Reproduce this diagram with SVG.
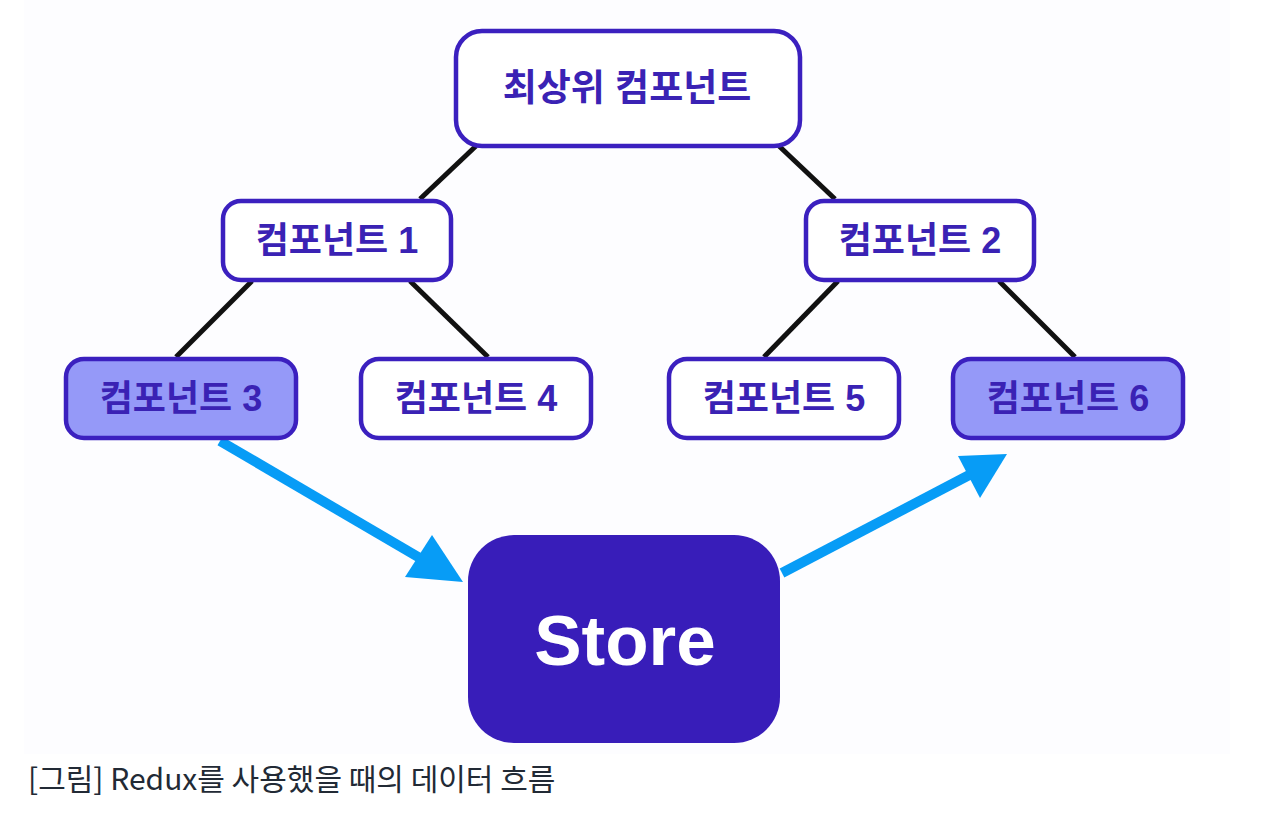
<svg xmlns="http://www.w3.org/2000/svg" width="1264" height="818" viewBox="0 0 1264 818">
<defs>
<style>
.node{fill:#ffffff;stroke:#3b20bf;stroke-width:4.5}
.hl{fill:#9599f8;stroke:#3b20bf;stroke-width:4.5}
.lbl{font-family:"Liberation Sans","Noto Sans CJK KR",sans-serif;font-weight:bold;font-size:36px;fill:#3a22b4;text-anchor:middle;dominant-baseline:central}
.tree{stroke:#111111;stroke-width:5;fill:none}
.flow{stroke:#079cf6;stroke-width:10;fill:none}
.head{fill:#079cf6}
</style>
</defs>
<rect x="0" y="0" width="1264" height="818" fill="#ffffff"/>
<rect x="24" y="0" width="1206" height="754" fill="#fdfdff"/>
<g id="connectors">
<line class="tree" x1="476" y1="146" x2="420" y2="199"/>
<line class="tree" x1="779" y1="146" x2="835" y2="199"/>
<line class="tree" x1="252" y1="281" x2="176" y2="357"/>
<line class="tree" x1="410" y1="281" x2="488" y2="357"/>
<line class="tree" x1="838" y1="281" x2="764" y2="357"/>
<line class="tree" x1="999" y1="281" x2="1075" y2="357"/>
<line class="flow" x1="220" y1="441" x2="425" y2="561"/>
<polygon class="head" points="463,582 405,577 432,535"/>
<line class="flow" x1="782" y1="573" x2="975" y2="472"/>
<polygon class="head" points="1007,454 958,456 980,498"/>
</g>
<g id="top">
<rect class="node" x="456" y="31" width="344" height="115" rx="26"/>
<text class="lbl" x="627" y="88" style="font-size:37px">최상위 컴포넌트</text>
</g>
<g id="c1">
<rect class="node" x="223" y="201" width="228" height="79" rx="18"/>
<text class="lbl" x="337" y="240">컴포넌트 1</text>
</g>
<g id="c2">
<rect class="node" x="806" y="201" width="228" height="79" rx="18"/>
<text class="lbl" x="920" y="240">컴포넌트 2</text>
</g>
<g id="c3">
<rect class="hl" x="66" y="359" width="230" height="79" rx="18"/>
<text class="lbl" x="181" y="398">컴포넌트 3</text>
</g>
<g id="c4">
<rect class="node" x="361" y="359" width="230" height="79" rx="18"/>
<text class="lbl" x="476" y="398">컴포넌트 4</text>
</g>
<g id="c5">
<rect class="node" x="669" y="359" width="230" height="79" rx="18"/>
<text class="lbl" x="784" y="398">컴포넌트 5</text>
</g>
<g id="c6">
<rect class="hl" x="953" y="359" width="230" height="79" rx="18"/>
<text class="lbl" x="1068" y="398">컴포넌트 6</text>
</g>
<g id="store">
<rect x="468" y="535" width="312" height="208" rx="46" fill="#381db9"/>
<text x="625" y="640" style="font-family:'Liberation Sans',sans-serif;font-weight:bold;font-size:71px;fill:#ffffff;text-anchor:middle;dominant-baseline:central">Store</text>
</g>
<text x="28" y="790" style="font-family:'Noto Sans CJK KR','Liberation Sans',sans-serif;font-size:30px;fill:#222a35">[그림] Redux를 사용했을 때의 데이터 흐름</text>
</svg>
